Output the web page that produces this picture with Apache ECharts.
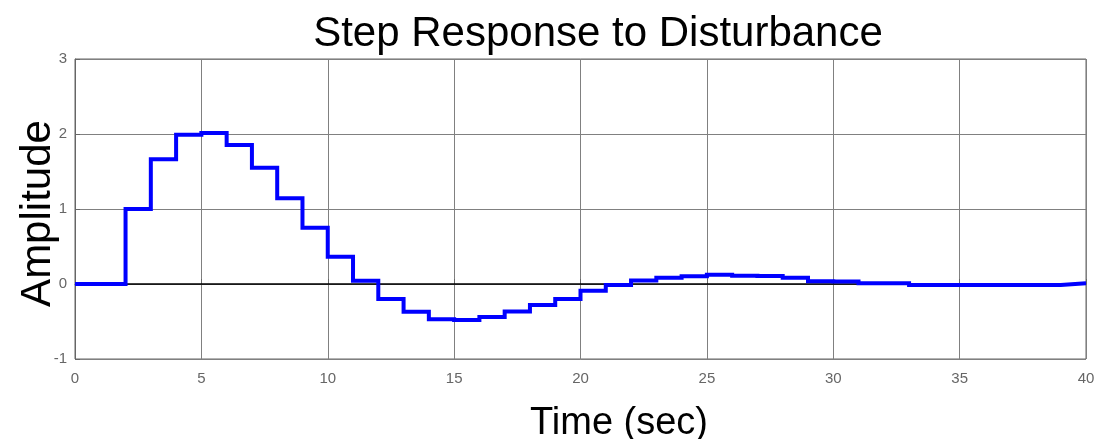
<!DOCTYPE html>
<html><head><meta charset="utf-8">
<script src="https://cdn.jsdelivr.net/npm/echarts@6/dist/echarts.min.js"></script>
<style>html,body{margin:0;padding:0;background:#fff}#c{width:1109px;height:439px}</style>
</head><body><div id="c"></div>
<script>
// sample times (sec) and held amplitude on [t, t+1)
const times = [0,1,2,3,4,5,6,7,8,9,10,11,12,13,14,15,16,17,18,19,20,21,22,23,24,25,26,27,28,29,30,31,32,33,34,35,36,37,38];
const amplitude = [0,0,1.0,1.665,1.99,2.015,1.855,1.55,1.145,0.75,0.365,0.045,-0.2,-0.37,-0.47,-0.48,-0.44,-0.365,-0.28,-0.2,-0.09,-0.014,0.046,0.082,0.105,0.124,0.11,0.108,0.082,0.037,0.032,0.009,0.009,-0.014,-0.014,-0.014,-0.014,-0.014,-0.014];
const sampleTime = 1;
const finalTime = 40;
const finalValue = 0.009;
const xTicks = [0,5,10,15,20,25,30,35,40];
const yTicks = [-1,0,1,2,3];
const xMin = 0, xMax = 40, yMin = -1, yMax = 3;

// zero-order-hold staircase built from the samples
const stepData = [];
times.forEach((t,i)=>{ stepData.push([t, amplitude[i]]); stepData.push([t+sampleTime, amplitude[i]]); });
stepData.push([finalTime, finalValue]);

const chart = echarts.init(document.getElementById('c'));
const gray = '#666';
const font = 'Liberation Sans, Arial, sans-serif';
chart.setOption({
  animation:false,
  backgroundColor:'#fff',
  title:{text:'Step Response to Disturbance', left:593, top:8, textAlign:'center',
    textStyle:{fontFamily:font, fontSize:42, fontWeight:'normal', color:'#000'}},
  grid:{left:75, right:23, top:59, bottom:80, show:true, borderColor:gray, borderWidth:1,
    outerBoundsMode:'none', containLabel:false},
  xAxis:{type:'value', min:xMin, max:xMax, interval:5,
    name:'Time (sec)', nameLocation:'middle', nameGap:46,
    nameTextStyle:{fontFamily:font, fontSize:38, color:'#000', padding:[0,0,0,77]},
    axisLine:{show:true, lineStyle:{color:gray}},
    axisTick:{show:true, inside:true, length:5, lineStyle:{color:gray}},
    axisLabel:{color:'#666', fontSize:15, fontFamily:font, margin:12,
      formatter:v=> xTicks.includes(v)? String(v):''},
    splitLine:{show:true, lineStyle:{color:'#808080', width:1}}},
  yAxis:{type:'value', min:yMin, max:yMax, interval:1,
    name:'Amplitude', nameLocation:'middle', nameGap:16, nameRotate:90, nameMoveOverlap:false,
    nameTextStyle:{fontFamily:font, fontSize:42, color:'#000', padding:[0,9,0,0]},
    axisLine:{show:true, lineStyle:{color:gray}},
    axisTick:{show:true, inside:true, length:5, lineStyle:{color:gray}},
    axisLabel:{color:'#666', fontSize:15, fontFamily:font, margin:8,
      formatter:v=> yTicks.includes(v)? String(v):''},
    splitLine:{show:true, lineStyle:{color:'#808080', width:1}}},
  series:[
    {type:'line', data:[[xMin,0],[xMax,0]], showSymbol:false, symbol:'none', silent:true,
     lineStyle:{color:'#000', width:1.5}, z:2},
    {type:'custom', data:[[xMin,0]], z:5, silent:true,
     renderItem:(params, api)=>({
       type:'polyline',
       shape:{points: stepData.map(p=>api.coord(p))},
       style:{stroke:'#0000ff', lineWidth:4, fill:null, lineJoin:'miter'}
     })}
  ]
});
</script></body></html>
